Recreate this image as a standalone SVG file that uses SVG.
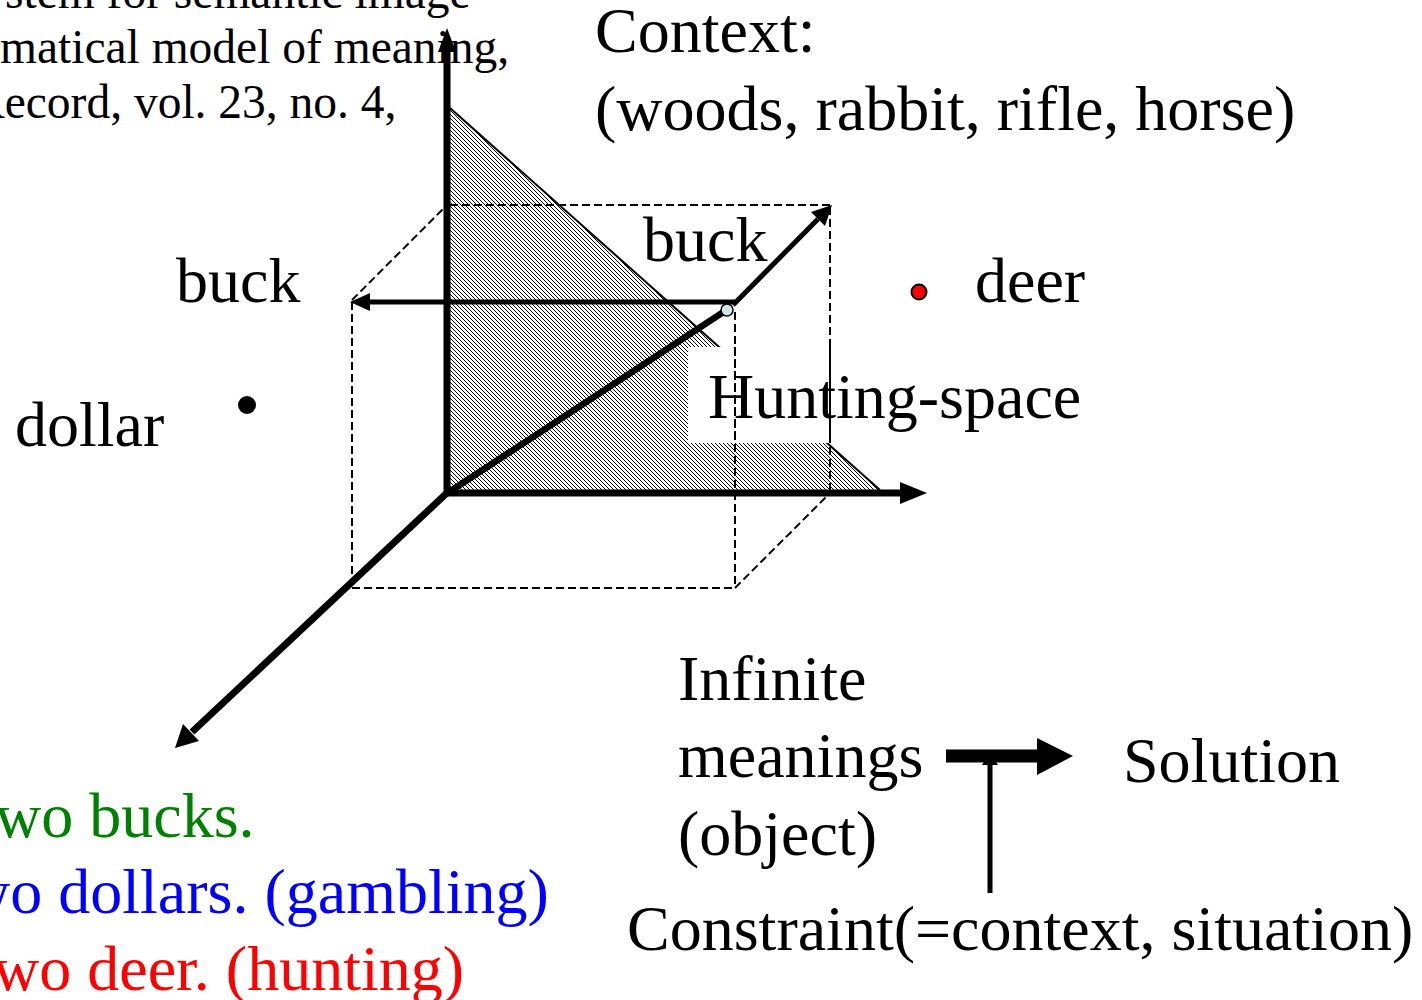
<svg xmlns="http://www.w3.org/2000/svg" width="1422" height="1000" viewBox="0 0 1422 1000">
<style>
text{font-family:"Liberation Serif","Times New Roman",serif;font-size:64px;fill:#000}
.cite{font-size:47.5px}
.dash{fill:none;stroke:#000;stroke-width:2;stroke-dasharray:8 4}
.axis{fill:none;stroke:#000;stroke-width:7}
</style>
<defs>
<pattern id="hatch" patternUnits="userSpaceOnUse" width="4" height="4">
<path d="M-1,-1 L5,5 M-1,3 L1,5 M3,-1 L5,1" stroke="#000" stroke-width="1.25" shape-rendering="crispEdges"/>
</pattern>
</defs>
<rect width="1422" height="1000" fill="#fff"/>
<g id="citation">
<text class="cite" x="5" y="8">stem for semantic image</text>
<text class="cite" x="0" y="63">matical model of meaning,</text>
<text class="cite" x="-27" y="118">Record, vol. 23, no. 4,</text>
</g>
<g id="hunting-plane">
<polygon points="450,108 880,490 450,490" fill="url(#hatch)"/>
<line x1="450" y1="108" x2="880" y2="490" stroke="#000" stroke-width="2"/>
<rect x="688" y="347" width="400" height="96" fill="#fff"/>
</g>
<g id="connectors">
<g id="cube">
<line class="dash" x1="352" y1="302" x2="352" y2="588"/>
<line class="dash" x1="352" y1="588" x2="735" y2="588"/>
<line class="dash" x1="735" y1="312" x2="735" y2="588"/>
<line class="dash" x1="450" y1="205" x2="830" y2="205"/>
<line class="dash" x1="830" y1="207" x2="830" y2="493"/>
<line class="dash" x1="352" y1="300" x2="445" y2="207"/>
<line class="dash" x1="735" y1="588" x2="830" y2="493"/>
</g>
<g id="axes">
<line class="axis" x1="447" y1="496" x2="447" y2="48"/>
<path d="M438,52 L447,28 L456,52 Z"/>
<line class="axis" x1="444" y1="493" x2="905" y2="493"/>
<path d="M900,482 L927,493 L900,504 Z"/>
<line class="axis" x1="449" y1="491" x2="192" y2="732"/>
<path d="M183,724 L175,748 L199,741 Z"/>
</g>
<line x1="449" y1="492" x2="728" y2="309" stroke="#000" stroke-width="6.5"/>
<line x1="735" y1="302" x2="368" y2="302" stroke="#000" stroke-width="5"/>
<path d="M370,293 L350,302 L370,311 Z"/>
<line x1="733" y1="305" x2="818" y2="219" stroke="#000" stroke-width="5"/>
<path d="M811,212 L832,205 L825,226 Z"/>
<line x1="946" y1="756" x2="1040" y2="756" stroke="#000" stroke-width="13"/>
<path d="M1037,738 L1073,756 L1037,775 Z"/>
<line x1="990" y1="893" x2="990" y2="762" stroke="#000" stroke-width="5"/>
<path d="M982,765 L990,752 L998,765 Z"/>
</g>
<g id="point"><ellipse cx="727" cy="310" rx="6" ry="6" fill="#cfe7ec" stroke="#000" stroke-width="1.5"/></g>
<g id="deer-dot"><circle cx="919" cy="292" r="7.5" fill="#f00" stroke="#000" stroke-width="2"/></g>
<g id="dollar-dot"><circle cx="247" cy="405" r="9" fill="#000"/></g>
<g id="context"><text x="595" y="52">Context:</text><text x="595" y="130">(woods, rabbit, rifle, horse)</text></g>
<g id="buck-left"><text x="176" y="302">buck</text></g>
<g id="buck-top"><text x="643" y="261">buck</text></g>
<g id="deer"><text x="975" y="302">deer</text></g>
<g id="dollar"><text x="15" y="446">dollar</text></g>
<g id="hunting-space"><text x="708" y="418">Hunting-space</text></g>
<g id="redraw-dash">
<line class="dash" x1="735" y1="347" x2="735" y2="443"/>
<line class="dash" x1="830" y1="347" x2="830" y2="443"/>
</g>
<g id="infinite"><text x="678" y="700">Infinite</text><text x="678" y="777">meanings</text><text x="678" y="855">(object)</text></g>
<g id="solution"><text x="1123" y="782">Solution</text></g>
<g id="constraint"><text x="627" y="950">Constraint(=context, situation)</text></g>
<g id="sentences">
<text x="-5" y="837" style="fill:#008000">wo bucks.</text>
<text x="-36" y="913" style="fill:#0000ff">wo dollars. (gambling)</text>
<text x="-7" y="990" style="fill:#ff0000">wo deer. (hunting)</text>
</g>
</svg>
